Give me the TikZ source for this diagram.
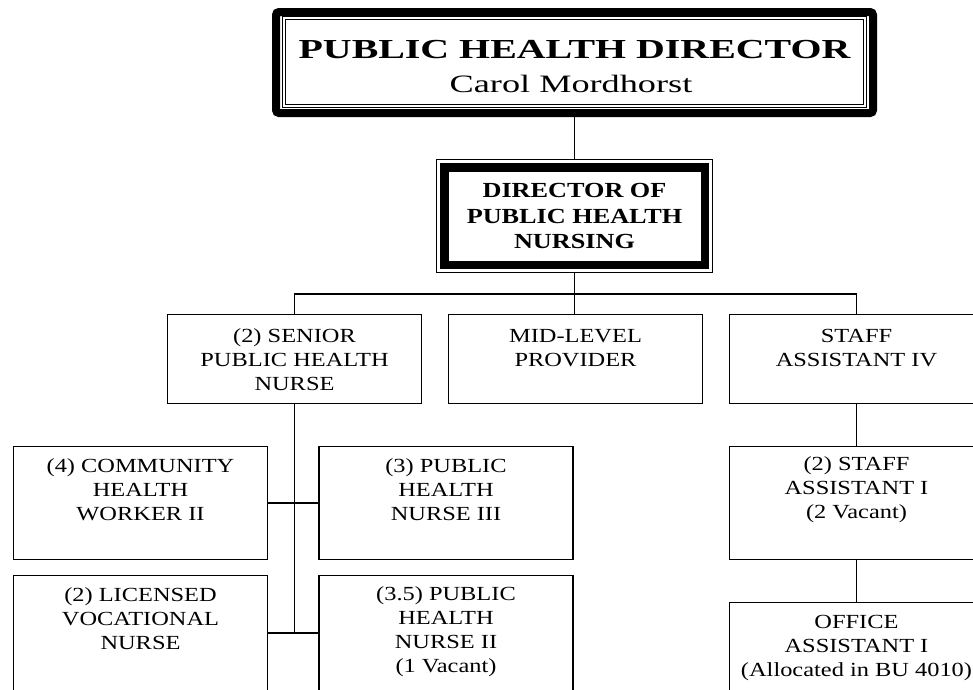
\documentclass[tikz,border=0pt]{standalone}
\usepackage{fontspec}
\newfontfamily\bodyfont{Liberation Serif}[FakeStretch=1.22]
\newfontfamily\titlefont{Liberation Serif}[FakeStretch=1.45]

\begin{document}
\begin{tikzpicture}[x=1pt, y=-1pt,
  post/.style={draw, line width=1.4pt, minimum width=254pt, minimum height=113pt, inner sep=0pt},
  posttext/.style={anchor=north, align=center, inner sep=0pt, yshift=-#1,
    font=\bodyfont\fontsize{20}{24}\selectfont},
  posttext/.default=13pt,
  link/.style={line width=1.1pt}]

  \useasboundingbox (0,0) rectangle (973,689);
  \clip (0,0) rectangle (973,689);

  % director
  \node[draw, line width=8pt, rounded corners=3pt, minimum width=597pt, minimum height=101pt] (phd) at (574.5,62.5) {};
  \draw[line width=0.9pt, double, double distance=1.3pt] ([shift={(12,10)}]phd.north west) rectangle ([shift={(-12,-11)}]phd.south east);
  \node[anchor=base, inner sep=0pt, font=\titlefont\bfseries\fontsize{27.5}{30}\selectfont] (phd-title) at (574.5,58) {PUBLIC HEALTH DIRECTOR};
  \node[anchor=base, inner sep=0pt, font=\titlefont\fontsize{25}{28}\selectfont] (phd-name) at (571,92) {Carol Mordhorst};

  % nursing director
  \node[draw, line width=1pt, minimum width=276pt, minimum height=113pt, align=center,
    font=\bodyfont\bfseries\fontsize{21.5}{25.5}\selectfont] (dphn) at (574.5,216) {DIRECTOR OF\\PUBLIC HEALTH\\NURSING};
  \draw[line width=8.5pt] ([shift={(8.25,8.25)}]dphn.north west) rectangle ([shift={(-8.25,-8.25)}]dphn.south east);

  % second row
  \node[post, minimum height=89pt] (snr) at (294.5,359) {};
  \node[posttext=15pt] (snr-t) at (snr.north) {(2) SENIOR\\PUBLIC HEALTH\\NURSE};
  \node[post, minimum height=89pt] (mlp) at (575.5,359) {};
  \node[posttext=15pt] (mlp-t) at (mlp.north) {MID-LEVEL\\PROVIDER};
  \node[post, minimum height=89pt] (sa4) at (856.5,359) {};
  \node[posttext=15pt] (sa4-t) at (sa4.north) {STAFF\\ASSISTANT IV};

  \coordinate (bus) at (574.5,294);
  \draw[link] (phd.south) -- (dphn.north);
  \draw[link] (dphn.south) -- (bus);
  \draw[link] (snr.north) |- (bus) -| (sa4.north);
  \draw[link] (bus) -- (bus |- mlp.north);

  % nurses
  \node[post] (chw) at (140.5,503) {};
  \node[posttext] (chw-t) at (chw.north) {(4) COMMUNITY\\HEALTH\\WORKER II};
  \node[post] (ph3) at (446,503) {};
  \node[posttext] (ph3-t) at (ph3.north) {(3) PUBLIC\\HEALTH\\NURSE III};
  \node[post, minimum height=115pt] (lvn) at (140.5,633) {};
  \node[posttext] (lvn-t) at (lvn.north) {(2) LICENSED\\VOCATIONAL\\NURSE};
  \node[post, minimum height=115pt] (ph2) at (446,633) {};
  \node[posttext=11.5pt] (ph2-t) at (ph2.north) {(3.5) PUBLIC\\HEALTH\\NURSE II\\(1 Vacant)};

  \draw[link] (snr.south) -- (snr.south |- lvn.east);
  \draw[link] (chw.east) -- (ph3.west);
  \draw[link] (lvn.east) -- (ph2.west);

  % staff
  \node[post] (sa1) at (856.5,503) {};
  \node[posttext=10.5pt] (sa1-t) at (sa1.north) {(2) STAFF\\ASSISTANT I\\(2 Vacant)};
  \node[post] (oa1) at (856.5,659) {};
  \node[posttext] (oa1-t) at (oa1.north) {OFFICE\\ASSISTANT I\\(Allocated in BU 4010)};

  \draw[link] (sa4.south) -- (sa1.north);
  \draw[link] (sa1.south) -- (oa1.north);
\end{tikzpicture}
\end{document}
